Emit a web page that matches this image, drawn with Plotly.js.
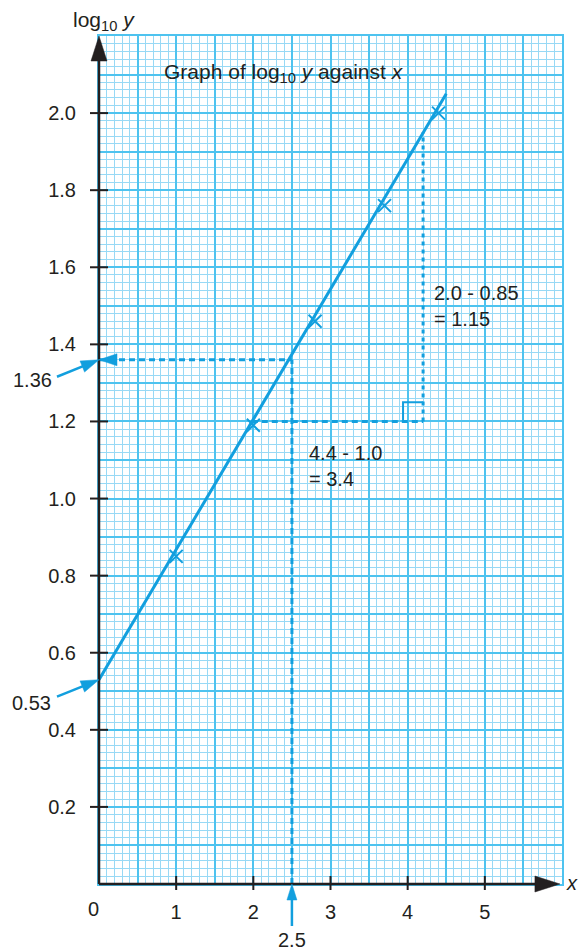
<!DOCTYPE html>
<html>
<head>
<meta charset="utf-8">
<script src="https://cdn.plot.ly/plotly-3.0.1.min.js"></script>
<style>html,body{margin:0;padding:0;background:#fff;}#chart{width:578px;height:951px;}</style>
</head>
<body>
<div id="chart"></div>
<script>
// ---- data ----
const xPoints = [1.0, 2.0, 2.8, 3.7, 4.4];
const yPoints = [0.85, 1.19, 1.46, 1.76, 2.0];
const fitX = [0, 4.5];
const fitY = [0.53, 2.05];
const intercept = 0.53;
const readX = 2.5;
const readY = 1.36;
const triBaseY = 1.2;
const triX = [1.98, 4.2];
const triTopY = 1.95;
const rightAngleX = [3.94, 4.2];
const rightAngleY = [1.2, 1.25];
const xTickValues = [1, 2, 3, 4, 5];
const xTickLabels = ['1', '2', '3', '4', '5'];
const yTickValues = [0.2, 0.4, 0.6, 0.8, 1.0, 1.2, 1.4, 1.6, 1.8, 2.0];
const yTickLabels = ['0.2', '0.4', '0.6', '0.8', '1.0', '1.2', '1.4', '1.6', '1.8', '2.0'];
const xRange = [0, 6];
const yRange = [0, 2.2];

const BLUE = '#129fde';
const GRID_MAJ = '#4ec3ef';
const GRID_MIN = '#98d9f5';
const INK = '#231f20';
const FONT = 'Liberation Sans, Arial, Helvetica, sans-serif';

// grid positions (major every 0.5 in x, every 0.1 in y)
const xGrid = [], xText = [];
for (let i = 0; i <= 12; i++) {
  const v = i / 2;
  xGrid.push(v);
  const k = xTickValues.indexOf(v);
  xText.push(k >= 0 ? xTickLabels[k] : '');
}
const yGrid = [], yText = [];
for (let i = 0; i <= 22; i++) {
  const v = Math.round(i) / 10;
  yGrid.push(v);
  const k = yTickValues.findIndex(t => Math.abs(t - v) < 1e-9);
  yText.push(k >= 0 ? yTickLabels[k] : '');
}

// arrow helper: tip anchored at (xa, ya) in given refs, tail offset in screen pixels
function arrow(xref, yref, xa, ya, dx, dy, headLen, headW, color, width, withShaft) {
  const L = Math.hypot(dx, dy);
  const ux = dx / L, uy = -dy / L;          // pixel-mode y is up
  const px = -uy, py = ux;
  const bx = ux * headLen, by = uy * headLen;
  const p1x = bx + px * headW / 2, p1y = by + py * headW / 2;
  const p2x = bx - px * headW / 2, p2y = by - py * headW / 2;
  const out = [];
  if (withShaft) {
    out.push({type: 'line', xref, yref, xsizemode: 'pixel', ysizemode: 'pixel',
      xanchor: xa, yanchor: ya, x0: bx * 0.8, y0: by * 0.8, x1: dx, y1: -dy,
      line: {color, width}});
  }
  out.push({type: 'path', xref, yref, xsizemode: 'pixel', ysizemode: 'pixel',
    xanchor: xa, yanchor: ya,
    path: `M0,0 L${p1x.toFixed(2)},${p1y.toFixed(2)} L${p2x.toFixed(2)},${p2y.toFixed(2)} Z`,
    fillcolor: color, line: {color, width: 0.5}});
  return out;
}

const DASH = '6px,4px';
const shapes = [];
// reading dashed lines
shapes.push({type: 'line', xref: 'x', yref: 'y', x0: 0, x1: readX, y0: readY, y1: readY, line: {color: BLUE, width: 3, dash: DASH}});
shapes.push({type: 'line', xref: 'x', yref: 'y', x0: readX, x1: readX, y0: 0, y1: readY, line: {color: BLUE, width: 3, dash: DASH}});
// gradient triangle
shapes.push({type: 'line', xref: 'x', yref: 'y', x0: triX[0], x1: triX[1], y0: triBaseY, y1: triBaseY, line: {color: BLUE, width: 3, dash: DASH}});
shapes.push({type: 'line', xref: 'x', yref: 'y', x0: triX[1], x1: triX[1], y0: triBaseY, y1: triTopY, line: {color: BLUE, width: 3, dash: '4px,4px'}});
shapes.push({type: 'path', xref: 'x', yref: 'y',
  path: `M${rightAngleX[0]},${rightAngleY[0]} L${rightAngleX[0]},${rightAngleY[1]} L${rightAngleX[1]},${rightAngleY[1]}`,
  line: {color: BLUE, width: 2}});
// black axes
shapes.push({type: 'line', xref: 'paper', yref: 'y', x0: 0, x1: 0, y0: 0, y1: yRange[1] - 0.05, line: {color: INK, width: 2.5}});
shapes.push({type: 'line', xref: 'x', yref: 'paper', x0: 0, x1: 5.75, y0: 0, y1: 0, line: {color: INK, width: 2.5}});
shapes.push(...arrow('paper', 'y', 0, yRange[1], 0, 25, 25, 16, INK, 2.5, false));
shapes.push(...arrow('paper', 'paper', 0.9955, 0, -25, 0, 25, 16, INK, 2.5, false));
// tick marks crossing axes
xTickValues.forEach(v => shapes.push({type: 'line', xref: 'x', yref: 'paper', x0: v, x1: v,
  ysizemode: 'pixel', yanchor: 0, y0: 8, y1: -6, line: {color: INK, width: 2}}));
yTickValues.forEach(v => shapes.push({type: 'line', xref: 'paper', yref: 'y', y0: v, y1: v,
  xsizemode: 'pixel', xanchor: 0, x0: -9, x1: 9, line: {color: INK, width: 2}}));
// blue pointer arrows
shapes.push(...arrow('x', 'y', 0, readY, 18, 0, 18, 12, BLUE, 2.5, false));
shapes.push(...arrow('paper', 'y', 0, readY, -42, 17, 18, 12, BLUE, 2.5, true));
shapes.push(...arrow('paper', 'y', 0, intercept, -42, 17, 18, 12, BLUE, 2.5, true));
shapes.push(...arrow('x', 'paper', readX, 0, 0, 42, 16, 10, BLUE, 2.5, true));

const annFont = {family: FONT, size: 20, color: INK};
const annotations = [
  {xref: 'paper', yref: 'y', x: 0, y: readY, text: '1.36', showarrow: false, xanchor: 'right', yanchor: 'middle', xshift: -45, yshift: -20, font: annFont},
  {xref: 'paper', yref: 'y', x: 0, y: intercept, text: '0.53', showarrow: false, xanchor: 'right', yanchor: 'middle', xshift: -46, yshift: -23, font: annFont},
  {xref: 'x', yref: 'paper', x: readX, y: 0, text: '2.5', showarrow: false, xanchor: 'center', yanchor: 'middle', yshift: -56, font: annFont},
  {xref: 'x', yref: 'paper', x: 0, y: 0, text: '0', showarrow: false, xanchor: 'center', yanchor: 'middle', xshift: -6, yshift: -25, font: annFont},
  {xref: 'paper', yref: 'paper', x: 0, y: 1, text: 'log<sub>10</sub> <i>y</i>', showarrow: false, xanchor: 'center', yanchor: 'middle', xshift: 5, yshift: 15, font: {family: FONT, size: 21, color: INK}},
  {xref: 'paper', yref: 'paper', x: 1, y: 0, text: '<i>x</i>', showarrow: false, xanchor: 'left', yanchor: 'middle', xshift: 2, yshift: 1, font: annFont},
  {xref: 'x', yref: 'y', x: 0.81, y: 2.105, text: 'Graph of log<sub>10</sub> <i>y</i> against <i>x</i>', showarrow: false, xanchor: 'left', yanchor: 'middle', font: {family: FONT, size: 21, color: INK}},
  {xref: 'x', yref: 'y', x: 4.31, y: 1.50, text: '2.0 - 0.85<br>= 1.15', align: 'left', showarrow: false, xanchor: 'left', yanchor: 'middle', font: annFont},
  {xref: 'x', yref: 'y', x: 2.69, y: 1.085, text: '4.4 - 1.0<br>= 3.4', align: 'left', showarrow: false, xanchor: 'left', yanchor: 'middle', font: annFont}
];

const traces = [
  {x: fitX, y: fitY, mode: 'lines', line: {color: BLUE, width: 3}, hoverinfo: 'skip'},
  {x: xPoints, y: yPoints, mode: 'markers', marker: {symbol: 'x-thin-open', size: 13, color: BLUE, line: {color: BLUE, width: 2}}, hoverinfo: 'skip'}
];

const layout = {
  width: 578, height: 951,
  margin: {l: 99, r: 16, t: 36, b: 67},
  paper_bgcolor: '#ffffff', plot_bgcolor: '#ffffff',
  showlegend: false,
  font: {family: FONT, size: 20, color: INK},
  xaxis: {
    range: xRange, tickmode: 'array', tickvals: xGrid, ticktext: xText,
    ticks: '', showgrid: true, gridcolor: GRID_MAJ, gridwidth: 2, zeroline: false,
    showline: true, linecolor: GRID_MAJ, linewidth: 2, mirror: true,
    ticklabelstandoff: 9, tickfont: annFont, fixedrange: true,
    minor: {tickmode: 'linear', tick0: 0, dtick: 0.1, showgrid: true, gridcolor: GRID_MIN, gridwidth: 1, ticks: ''}
  },
  yaxis: {
    range: yRange, tickmode: 'array', tickvals: yGrid, ticktext: yText,
    ticks: '', showgrid: true, gridcolor: GRID_MAJ, gridwidth: 2, zeroline: false,
    showline: true, linecolor: GRID_MAJ, linewidth: 2, mirror: true,
    ticklabelstandoff: 17, tickfont: annFont, fixedrange: true,
    minor: {tickmode: 'linear', tick0: 0, dtick: 0.02, showgrid: true, gridcolor: GRID_MIN, gridwidth: 1, ticks: ''}
  },
  shapes, annotations
};

Plotly.newPlot('chart', traces, layout, {staticPlot: true, displayModeBar: false});
</script>
</body>
</html>
